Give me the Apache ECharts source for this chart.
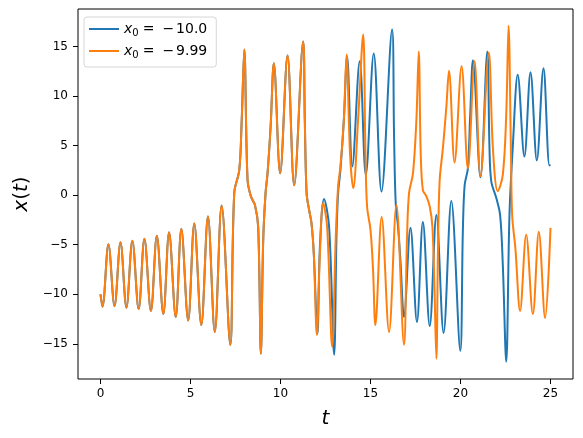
<!DOCTYPE html>
<html><head><meta charset="utf-8">
<script src="https://cdn.jsdelivr.net/npm/echarts@6/dist/echarts.min.js"></script>
<style>html,body{margin:0;padding:0;background:#fff}#c{width:583px;height:438px}</style>
</head><body><div id="c"></div>
<script>
// [t, x(t)]; both runs coincide until t ≈ 11.9
const commonStart = [
  [0,-10.0],[0.11,-11.25],[0.44,-4.95],[0.78,-11.2],[1.11,-4.75],[1.44,-11.35],[1.77,-4.6],
  [2.12,-11.5],[2.44,-4.4],[2.8,-11.7],[3.13,-4.1],[3.49,-12.0],[3.81,-3.75],[4.18,-12.3],
  [4.49,-3.4],[4.87,-12.65],[5.21,-2.85],[5.6,-13.1],[5.97,-2.15],[6.35,-13.8],[6.73,-1.05],
  [7.21,-15.1],[7.43,0.2],[7.71,2.55],[7.84,7.3],[7.99,14.7],[8.17,1.5],[8.36,-0.15],
  [8.58,-1.0],[8.76,-3.2],[8.91,-16.0],[9.04,-4.5],[9.17,0.2],[9.28,2.2],[9.45,6.9],
  [9.63,13.3],[9.98,2.2],[10.39,14.1],[10.76,1.0],[11.26,15.5],[11.35,7.6],[11.45,0.2],
  [11.59,-1.5],[11.72,-2.8],[11.85,-5.9]
];
const blueTail = [
  [12.05,-14.0],[12.19,-5.2],[12.42,-0.4],[12.7,-3.2],[12.98,-16.1],[13.11,-4.2],[13.2,0.2],
  [13.33,2.55],[13.52,7.6],[13.7,14.0],[13.99,2.9],[14.4,13.5],[14.74,2.05],[15.18,14.3],
  [15.61,0.36],[16.2,16.7],[16.31,5.9],[16.4,-0.8],[16.53,-3.2],[16.66,-6.5],[16.86,-12.3],
  [17.22,-3.3],[17.58,-12.8],[17.91,-2.7],[18.29,-13.2],[18.66,-2.0],[19.06,-13.9],
  [19.49,-0.6],[19.99,-15.7],[20.13,-3.7],[20.23,1.0],[20.41,2.7],[20.54,8.1],[20.69,13.6],
  [21.11,1.8],[21.49,14.5],[21.61,4.75],[21.71,1.4],[21.99,-0.3],[22.2,-2.0],[22.35,-7.0],
  [22.54,-16.8],[22.72,-2.0],[22.9,4.7],[23.18,12.15],[23.55,3.9],[23.89,12.4],[24.24,3.5],
  [24.61,12.8],[24.94,3.0],[25.0,3.05]
];
const orangeTail = [
  [12.02,-14.1],[12.19,-5.9],[12.37,-0.8],[12.59,-3.2],[12.87,-15.3],[13.07,-4.2],[13.2,0.9],
  [13.33,2.9],[13.52,7.6],[13.67,14.2],[13.86,4.25],[14.04,0.7],[14.31,7.6],[14.59,16.2],
  [14.72,4.2],[14.81,-1.15],[15.0,-3.5],[15.14,-7.5],[15.27,-13.1],[15.62,-2.2],[16.03,-13.8],
  [16.44,-1.0],[16.86,-15.1],[17.03,-4.2],[17.14,0.2],[17.36,2.2],[17.55,7.6],[17.68,14.5],
  [17.79,4.2],[17.91,0.5],[18.1,-0.1],[18.29,-1.15],[18.44,-3.2],[18.55,-9.2],[18.66,-16.5],
  [18.75,-5.4],[18.84,1.4],[19.02,4.7],[19.21,8.8],[19.36,12.55],[19.67,3.3],[20.06,13.0],
  [20.41,2.7],[20.78,13.5],[21.11,1.9],[21.57,14.4],[21.8,4.75],[22.07,0.4],[22.35,2.05],
  [22.54,8.1],[22.67,17.1],[22.8,4.75],[22.87,-2.0],[23.05,-5.4],[23.31,-11.7],[23.65,-4.0],
  [24.02,-12.0],[24.35,-3.7],[24.7,-12.4],[25.0,-3.3]
];
const xTicks = [0,5,10,15,20,25];
const yTicks = [-15,-10,-5,0,5,10,15];
const seriesNames = ['x0 = -10.0','x0 = -9.99'];
const legendValues = ['10.0','9.99'];
const colors = ['#1f77b4','#ff7f0e'];

const FONT = 'DejaVu Sans';
const chart = echarts.init(document.getElementById('c'), null, {renderer:'canvas'});
const axisCommon = {
  axisLine:{show:false,onZero:false},
  splitLine:{show:false},
  axisTick:{show:true,inside:false,length:5,lineStyle:{color:'#000',width:1}},
  axisLabel:{color:'#000',fontFamily:FONT,fontSize:12}
};
chart.setOption({
  animation:false,
  backgroundColor:'#fff',
  grid:{left:78,top:9,right:10,bottom:59,show:true,borderColor:'#000',borderWidth:1,containLabel:false},
  legend:{
    left:84, top:17, orient:'vertical',
    icon:'rect', itemWidth:30, itemHeight:2, itemGap:6, itemTextGap:12,
    padding:[5,9,7,5],
    backgroundColor:'rgba(255,255,255,0.8)', borderColor:'#d6d6d6', borderWidth:1, borderRadius:3,
    data:seriesNames,
    formatter:function(name){
      const i = seriesNames.indexOf(name);
      return '{i|x}{s|0}{e|=}{m|\u2212}{n|' + legendValues[i] + '}';
    },
    textStyle:{
      color:'#000', fontFamily:FONT, fontSize:14,
      rich:{
        i:{fontFamily:FONT,fontStyle:'italic',fontSize:14,lineHeight:18,color:'#000'},
        s:{fontFamily:FONT,fontSize:10,lineHeight:18,verticalAlign:'bottom',padding:[5,0,0,0],color:'#000'},
        e:{fontFamily:FONT,fontSize:14,lineHeight:18,padding:[0,8,0,4],color:'#000'},
        m:{fontFamily:FONT,fontSize:14,lineHeight:18,padding:[0,2,0,0],color:'#000'},
        n:{fontFamily:FONT,fontSize:14,lineHeight:18,color:'#000'}
      }
    }
  },
  xAxis:Object.assign({}, axisCommon, {
    type:'value', min:-1.25, max:26.25,
    axisTick:Object.assign({}, axisCommon.axisTick, {customValues:xTicks}),
    axisLabel:Object.assign({}, axisCommon.axisLabel, {customValues:xTicks, margin:9}),
    name:'{i|t}', nameLocation:'middle', nameGap:30,
    nameTextStyle:{rich:{i:{fontFamily:FONT,fontStyle:'italic',fontSize:20,color:'#000'}}}
  }),
  yAxis:Object.assign({}, axisCommon, {
    type:'value', min:-18.55, max:18.78,
    axisTick:Object.assign({}, axisCommon.axisTick, {customValues:yTicks}),
    axisLabel:Object.assign({}, axisCommon.axisLabel, {customValues:yTicks, margin:10,
      formatter:function(v){return v<0 ? '\u2212'+Math.abs(v) : String(v);}}),
    name:'{i|x}{n|(}{i|t}{n|)}', nameLocation:'middle', nameGap:46, nameRotate:90,
    nameTextStyle:{rich:{
      i:{fontFamily:FONT,fontStyle:'italic',fontSize:20,color:'#000'},
      n:{fontFamily:FONT,fontSize:20,color:'#000'}
    }}
  }),
  series:[
    {name:seriesNames[0], type:'line', data:commonStart.concat(blueTail), showSymbol:false, symbol:'none',
     smooth:0.35, lineStyle:{color:colors[0],width:2}, itemStyle:{color:colors[0]}, z:2},
    {name:seriesNames[1], type:'line', data:commonStart.concat(orangeTail), showSymbol:false, symbol:'none',
     smooth:0.35, lineStyle:{color:colors[1],width:2}, itemStyle:{color:colors[1]}, z:3}
  ]
});
</script></body></html>
